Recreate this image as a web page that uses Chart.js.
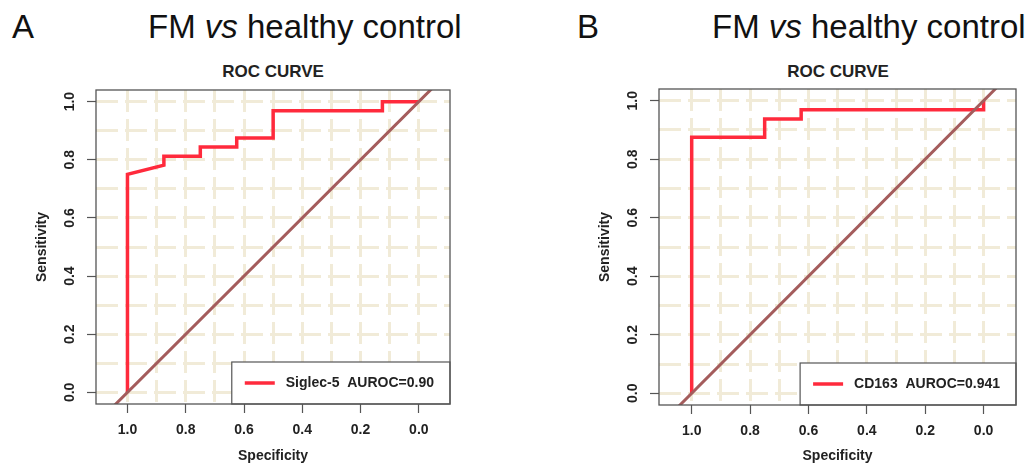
<!DOCTYPE html>
<html><head><meta charset="utf-8">
<script src="https://cdn.jsdelivr.net/npm/chart.js@4.4.0/dist/chart.umd.min.js"></script>
<style>
html,body{margin:0;padding:0;background:#fff;}
body{width:1030px;height:465px;position:relative;overflow:hidden;font-family:"Liberation Sans",Arial,sans-serif;}
.hd{position:absolute;top:10px;font-size:33px;line-height:33px;color:#111;white-space:nowrap;}
.sub{position:absolute;top:63px;font-weight:bold;font-size:17px;line-height:17px;color:#222;transform:translateX(-50%);white-space:nowrap;}
canvas{position:absolute;top:0;}
</style></head><body>
<div class="hd" style="left:12px">A</div>
<div class="hd" style="left:148px">FM <i>vs</i> healthy control</div>
<div class="hd" style="left:577px">B</div>
<div class="hd" style="left:712px">FM <i>vs</i> healthy control</div>
<div class="sub" style="left:273px">ROC CURVE</div>
<div class="sub" style="left:838px">ROC CURVE</div>
<canvas id="cA" width="530" height="465" style="left:0;width:530px;height:465px"></canvas>
<canvas id="cB" width="500" height="465" style="left:530px;width:500px;height:465px"></canvas>
<script>
// ---- data ----
const xAxisTitle = 'Specificity';
const yAxisTitle = 'Sensitivity';
const tickValues = [0, 0.2, 0.4, 0.6, 0.8, 1.0];
const tickLabels = ['0.0', '0.2', '0.4', '0.6', '0.8', '1.0'];
const gridValues = [0, 0.1, 0.2, 0.3, 0.4, 0.5, 0.6, 0.7, 0.8, 0.9, 1.0];

const siglec5Specificity = [1.0, 1.0, 0.875, 0.875, 0.75, 0.75, 0.625, 0.625, 0.5, 0.5, 0.125, 0.125, 0.0];
const siglec5Sensitivity = [0.0, 0.75, 0.78125, 0.8125, 0.8125, 0.84375, 0.84375, 0.875, 0.875, 0.96875, 0.96875, 1.0, 1.0];
const cd163Specificity = [1.0, 1.0, 0.75, 0.75, 0.625, 0.625, 0.0, 0.0];
const cd163Sensitivity = [0.0, 0.875, 0.875, 0.9375, 0.9375, 0.96875, 0.96875, 1.0];

const chanceSpecificity = [1.1, -0.1];
const chanceSensitivity = [-0.1, 1.1];

const markerNames = ['Siglec-5', 'CD163'];
const aurocValues = ['0.90', '0.941'];

// ---- styles ----
const RED = '#FF2A3C';
const DIAG = '#A45C5C';
const GRIDC = '#F1EBD8';
const AXC = '#555555';
const TXT = '#222222';
const FONT = '"Liberation Sans", Arial, sans-serif';

function pts(xs, ys) { return xs.map((x, i) => ({x: x, y: ys[i]})); }
function isGrid(v) { return gridValues.some(g => Math.abs(g - v) < 1e-6); }
function isTick(v) { return tickValues.some(g => Math.abs(g - v) < 1e-6); }
function tickLabel(v) { const i = tickValues.findIndex(g => Math.abs(g - v) < 1e-6); return i >= 0 ? tickLabels[i] : ''; }

function makeChart(id, spec, sens, name, auc, g) {
  const decor = {
    id: 'decor' + id,
    afterDatasetsDraw(chart) {
      const ctx = chart.ctx, a = chart.chartArea;
      ctx.save();
      // legend
      ctx.font = 'bold 14px ' + FONT;
      const label = name + '  AUROC=' + auc;
      const tw = ctx.measureText(label).width;
      const bw = tw + 70, bh = 42;
      const bx = a.right - bw, by = a.bottom - bh;
      ctx.fillStyle = '#fff';
      ctx.fillRect(bx, by, bw, bh);
      ctx.strokeStyle = AXC; ctx.lineWidth = 1.2;
      ctx.strokeRect(bx, by, bw, bh);
      const cy = by + bh / 2;
      ctx.strokeStyle = RED; ctx.lineWidth = 3.5;
      ctx.beginPath(); ctx.moveTo(bx + 13, cy); ctx.lineTo(bx + 43, cy); ctx.stroke();
      ctx.fillStyle = TXT; ctx.textAlign = 'left'; ctx.textBaseline = 'middle';
      ctx.fillText(label, bx + 54, cy + 0.5);
      // plot box
      ctx.strokeStyle = AXC; ctx.lineWidth = 1.3;
      ctx.strokeRect(a.left, a.top, a.right - a.left, a.bottom - a.top);
      // rotated y tick labels
      const ys = chart.scales.y;
      ctx.font = 'bold 14px ' + FONT;
      ctx.fillStyle = TXT; ctx.textAlign = 'center'; ctx.textBaseline = 'middle';
      tickValues.forEach((v, i) => {
        const py = ys.getPixelForValue(v);
        ctx.save();
        ctx.translate(a.left - 26, py);
        ctx.rotate(-Math.PI / 2);
        ctx.fillText(tickLabels[i], 0, 0);
        ctx.restore();
      });
      ctx.restore();
    }
  };
  const gridColor = c => (c.tick && isGrid(c.tick.value)) ? GRIDC : 'rgba(0,0,0,0)';
  const tickColor = c => (c.tick && isTick(c.tick.value)) ? AXC : 'rgba(0,0,0,0)';
  return new Chart(document.getElementById(id), {
    type: 'scatter',
    data: {
      datasets: [
        {data: pts(chanceSpecificity, chanceSensitivity), showLine: true, borderColor: DIAG, borderWidth: 3, pointRadius: 0, order: 0},
        {data: pts(spec, sens), showLine: true, borderColor: RED, borderWidth: 3.5, pointRadius: 0, order: 1, borderJoinStyle: 'miter'}
      ]
    },
    options: {
      responsive: false, animation: false, devicePixelRatio: 1,
      layout: {padding: {top: g.top, right: g.right, bottom: 0, left: g.left}},
      plugins: {legend: {display: false}, tooltip: {enabled: false}, title: {display: false}},
      scales: {
        x: {
          type: 'linear', position: 'bottom', reverse: true, min: g.xmin, max: g.xmax,
          afterFit: s => { s.height = g.xh; },
          ticks: {stepSize: 0.1, includeBounds: false, autoSkip: false, maxRotation: 0, minRotation: 0, padding: 9,
                  color: TXT, font: {family: FONT, size: 14, weight: 'bold'}, callback: v => tickLabel(v)},
          grid: {color: gridColor, lineWidth: 3, drawTicks: true, tickLength: 9, tickColor: tickColor, tickWidth: 1.2},
          border: {display: false, dash: [22, 7]},
          title: {display: true, text: xAxisTitle, color: TXT, font: {family: FONT, size: 14, weight: 'bold'}, padding: {top: 0, bottom: 0}}
        },
        y: {
          type: 'linear', position: 'left', min: -0.04, max: 1.04,
          afterFit: s => { s.width = 62; },
          ticks: {stepSize: 0.1, includeBounds: false, autoSkip: false, color: TXT, font: {family: FONT, size: 14, weight: 'bold'}, callback: v => ''},
          grid: {color: gridColor, lineWidth: 3, drawTicks: true, tickLength: 9, tickColor: tickColor, tickWidth: 1.2},
          border: {display: false, dash: [22, 7]},
          title: {display: true, text: yAxisTitle, color: TXT, font: {family: FONT, size: 14, weight: 'bold'}, padding: {top: 0, bottom: 0}}
        }
      }
    },
    plugins: [decor]
  });
}

makeChart('cA', siglec5Specificity, siglec5Sensitivity, markerNames[0], aurocValues[0],
  {top: 90, right: 80, left: 34, xh: 61, xmin: -0.107, xmax: 1.108});
makeChart('cB', cd163Specificity, cd163Sensitivity, markerNames[1], aurocValues[1],
  {top: 89, right: 14, left: 67, xh: 60, xmin: -0.111, xmax: 1.112});
</script>
</body></html>
